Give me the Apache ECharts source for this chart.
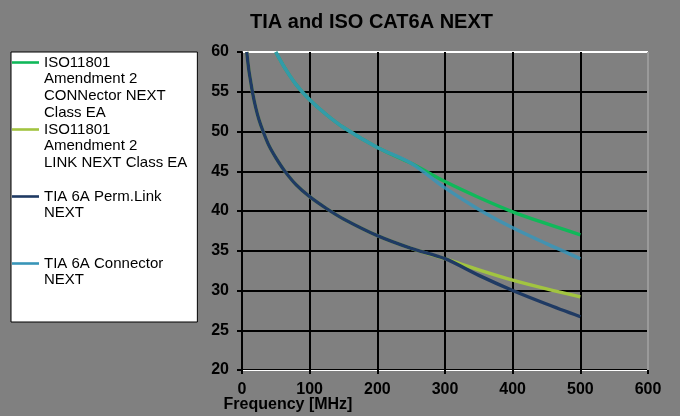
<!DOCTYPE html>
<html>
<head>
<meta charset="utf-8">
<script src="https://cdn.jsdelivr.net/npm/echarts@6/dist/echarts.min.js"></script>
<style>html,body{margin:0;padding:0;background:#808080;}#c{width:680px;height:416px;}</style>
</head>
<body>
<div id="c"></div>
<script>
// ---- data ----
const titleText = 'TIA and ISO CAT6A NEXT';
const xAxisName = 'Frequency [MHz]';
const xTicks = [0, 100, 200, 300, 400, 500, 600];
const yTicks = [20, 25, 30, 35, 40, 45, 50, 55, 60];

const seriesNames = [
  'ISO11801 Amendment 2 CONNector NEXT Class EA',
  'ISO11801 Amendment 2 LINK NEXT Class EA',
  'TIA 6A Perm.Link NEXT',
  'TIA 6A Connector NEXT'
];
const legendLines = [
  ['ISO11801', 'Amendment 2', 'CONNector NEXT', 'Class EA'],
  ['ISO11801', 'Amendment 2', 'LINK NEXT Class EA'],
  ['TIA 6A Perm.Link', 'NEXT'],
  ['TIA 6A Connector', 'NEXT']
];

// TIA 6A permanent link NEXT (MHz, dB)
const tiaPermLinkFreq = [7, 10, 13, 16, 20, 25, 31.25, 40, 50, 62.5, 80, 100, 125, 150, 200, 250, 300, 350, 400, 450, 500];
const tiaPermLinkDb   = [60, 57.8, 56.2, 54.7, 53.1, 51.5, 50.0, 48.2, 46.7, 45.1, 43.3, 41.8, 40.3, 39.0, 36.9, 35.3, 34.0, 31.9, 30.0, 28.3, 26.7];

// ISO 11801 Amd 2 link NEXT Class EA
const isoLinkFreq = [7, 10, 13, 16, 20, 25, 31.25, 40, 50, 62.5, 80, 100, 125, 150, 200, 250, 300, 350, 400, 450, 500];
const isoLinkDb   = [60, 57.8, 56.2, 54.7, 53.1, 51.5, 50.0, 48.2, 46.7, 45.1, 43.3, 41.8, 40.3, 39.0, 36.9, 35.3, 34.0, 32.6, 31.3, 30.2, 29.2];

// ISO 11801 Amd 2 connector NEXT Class EA
const isoConnFreq = [50, 62.5, 80, 100, 125, 150, 200, 250, 300, 350, 400, 450, 500];
const isoConnDb   = [60, 58.1, 55.9, 54.0, 52.1, 50.5, 48.0, 46.0, 43.7, 41.7, 39.9, 38.4, 37.0];

// TIA 6A connector NEXT
const tiaConnFreq = [50, 62.5, 80, 100, 125, 150, 200, 250, 300, 350, 400, 450, 500];
const tiaConnDb   = [60, 58.1, 55.9, 54.0, 52.1, 50.5, 48.0, 46.0, 42.9, 40.2, 37.9, 35.9, 34.0];

const colors = ['#10B85A', '#A2C440', '#1F3A63', '#3895B8'];

function pairs(xs, ys) { return xs.map((x, i) => [x, ys[i]]); }

const FONT = 'Liberation Sans, Arial, sans-serif';
const chart = echarts.init(document.getElementById('c'), null, {renderer: 'canvas'});

function lineSeries(idx, data, extra) {
  return Object.assign({
    name: seriesNames[idx],
    type: 'line',
    data: data,
    symbol: 'none',
    smooth: 0.3,
    color: colors[idx],
    lineStyle: {width: 3.4, color: colors[idx]},
    emphasis: {disabled: true}
  }, extra || {});
}

const option = {
  backgroundColor: '#808080',
  animation: false,
  title: {
    text: titleText,
    left: 245,
    top: 7,
    textStyle: {fontFamily: FONT, fontSize: 20, fontWeight: 'bold', color: '#000'}
  },
  legend: {
    orient: 'vertical',
    left: 11,
    top: 52,
    itemWidth: 27,
    itemHeight: 67,
    itemGap: 0,
    icon: 'path://M0,0M0,67M0,7.2L27,7.2L27,9.8L0,9.8Z',
    symbolKeepAspect: false,
    itemStyle: {borderWidth: 0},
    backgroundColor: '#ffffff',
    borderColor: '#000000',
    borderWidth: 1,
    padding: [2, 10, 0, 1],
    selectedMode: false,
    data: [seriesNames[0], seriesNames[1], seriesNames[2], seriesNames[3]],
    formatter: function (name) {
      const lines = legendLines[seriesNames.indexOf(name)].slice();
      while (lines.length < 4) lines.push(' ');
      return lines.join('\n');
    },
    textStyle: {fontFamily: FONT, fontSize: 15, lineHeight: 16.75, color: '#000'}
  },
  grid: {left: 242, right: 32, top: 52, bottom: 46, outerBoundsMode: 'none', containLabel: false},
  xAxis: {
    type: 'value',
    min: xTicks[0],
    max: xTicks[xTicks.length - 1],
    interval: 100,
    name: xAxisName,
    nameLocation: 'middle',
    nameGap: 27,
    nameMoveOverlap: false,
    nameTextStyle: {fontFamily: FONT, fontSize: 16, fontWeight: 'bold', color: '#000', align: 'center', verticalAlign: 'top', padding: [0, 314, 0, 0]},
    axisLine: {show: true, onZero: false, lineStyle: {color: '#ffffff', width: 1}},
    axisTick: {show: true, length: 4, lineStyle: {color: '#000', width: 2}},
    axisLabel: {margin: 12, fontFamily: FONT, fontSize: 16, fontWeight: 'bold', color: '#000'},
    splitLine: {show: true, lineStyle: {color: ['#000', '#000', '#000', '#000', '#000', '#000', '#9a9a9a'], width: 2}}
  },
  yAxis: {
    type: 'value',
    min: yTicks[0],
    max: yTicks[yTicks.length - 1],
    interval: 5,
    axisLine: {show: true, onZero: false, lineStyle: {color: '#000', width: 2}},
    axisTick: {show: true, length: 5, lineStyle: {color: '#000', width: 2}},
    axisLabel: {margin: 13, fontFamily: FONT, fontSize: 16, fontWeight: 'bold', color: '#000'},
    splitLine: {show: true, lineStyle: {color: ['#000', '#000', '#000', '#000', '#000', '#000', '#000', '#000', '#ffffff'], width: 2}}
  },
  series: [
    lineSeries(1, pairs(isoLinkFreq, isoLinkDb)),
    lineSeries(2, pairs(tiaPermLinkFreq, tiaPermLinkDb)),
    lineSeries(0, pairs(isoConnFreq, isoConnDb)),
    lineSeries(3, pairs(tiaConnFreq, tiaConnDb), {lineStyle: {width: 3.4, color: colors[3], opacity: 0.85}})
  ]
};
chart.setOption(option);
</script>
</body>
</html>
